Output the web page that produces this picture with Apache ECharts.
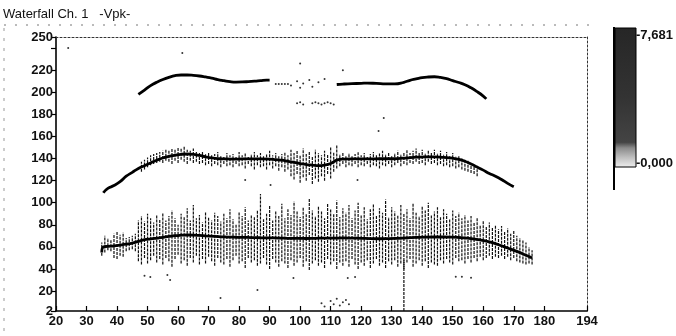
<!DOCTYPE html>
<html>
<head>
<meta charset="utf-8">
<script src="https://cdn.jsdelivr.net/npm/echarts@6/dist/echarts.min.js"></script>
<style>html,body{margin:0;padding:0;background:#fff}#c{width:676px;height:336px}</style>
</head>
<body>
<div id="c"></div>
<script>
// ---- axis ticks / labels ----
const xTickLabels = [20,30,40,50,60,70,80,90,100,110,120,130,140,150,160,170,180,194];
const yTickLabels = [2,20,40,60,80,100,120,140,160,180,200,220,250];
const yTicks = [2,20,40,60,80,100,120,140,160,180,200,220,240,250];
const colorbarLabels = ['-7,681','-0,000'];

// ---- top ridge (~210) ----
const topLeftX = [47,49,51,53,55,57,59,61,63,65,67,69,71,73,75,77,79,81,83,85,87,89,90];
const topLeftY = [198,202,206,209,211.5,213.5,215,215.6,215.6,215.3,214.7,213.8,212.8,211.5,210.5,209.6,209.2,209.3,209.6,210,210.5,211,211];
const topRightX = [112,114,117,120,122,125,128,131,134,136,138,140,142,144,146,148,150,152,154,156,158,160,161];
const topRightY = [207,207.4,207.8,208,208.3,208,207.6,207.5,209,210.8,212,213.2,213.8,214,213.4,212.3,210.5,208.8,206.8,204,200.5,196.5,194];

// ---- middle ridge (~140) ----
const midX = [35.5,37,39,41,43,45,47,49,51,53,55,57,59,61,63,65,67,69,71,73,75,78,81,84,87,90,92,94,96,98,100,102,104,106,108,110,112,114,117,120,123,126,129,132,135,138,141,144,147,150,152,154,156,158,160,162,164,166,168,170];
const midY = [109,113,115.5,119,124,127.5,131,133.5,136,138.5,140.5,142,143,143.8,144.1,143.8,142.8,141.5,140.5,140,139.6,139.5,139.6,139.6,139.6,139.5,139,138.5,137.5,136.5,135.5,134.5,134,133.5,134,135.5,138.5,139.5,139.7,139.6,139.6,139.8,139.8,140,140.6,141.2,141.5,141.5,141,140.3,139.3,137.5,135,132.3,129.5,126.5,124,121,117.5,114.5];

// ---- bottom ridge (~68) ----
const botX = [35,35.5,37,39,41,43,45,47,49,51,53,55,57,59,61,63,65,67,69,72,75,78,81,84,87,90,93,96,99,102,105,108,111,114,117,120,123,126,129,132,135,138,141,144,147,150,153,156,159,162,165,168,171,174,176];
const botY = [55,60,60.5,61,61.7,62.5,63.5,65,66.5,67.3,68,68.7,69.5,70.2,70.6,70.8,70.7,70.4,70,69.5,69,68.8,68.6,68.5,68.3,68.2,68,67.8,67.7,67.6,67.8,68,68,68.1,68,67.8,67.5,67.4,67.5,67.8,68.2,68.6,68.9,69,69,68.8,68.3,67.5,66.3,64.5,62,59,56,52.5,50];

// ---- bottom band streaks (x = 35..176 step 1) ----
const botNoiseStart = 35;
const botNoiseHigh = [
 64,70,68,66,72,74,71,73,68,69,
 70,72,84,88,83,90,86,82,89,85,
 91,84,88,93,86,80,90,87,95,84,
 98,86,89,82,92,87,84,91,88,83,
 90,86,94,85,81,92,88,96,84,89,
 87,93,108,85,90,97,84,92,88,99,
 86,94,89,101,92,87,96,90,104,93,
 88,97,92,86,99,94,90,102,87,95,
 91,98,86,93,100,89,96,85,94,99,
 88,95,91,103,87,96,92,89,98,90,
 94,86,99,91,88,97,93,100,89,92,
 96,87,94,90,85,93,88,91,86,89,
 84,88,82,86,80,84,79,82,78,80,
 76,79,74,77,72,75,70,68,66,64,
 60,57];
const botNoiseLow = [
 52,55,57,56,50,49,52,51,56,57,
 58,56,47,44,50,45,48,52,46,49,
 44,50,47,42,49,53,45,48,43,50,
 46,52,44,49,45,51,47,43,50,46,
 44,49,42,48,52,45,47,41,50,46,
 48,43,45,50,44,40,49,46,42,47,
 45,41,48,43,46,50,42,47,39,45,
 48,43,46,41,49,44,47,40,46,43,
 47,42,49,44,40,46,43,48,41,45,
 49,43,46,41,47,44,48,42,45,40,
 46,49,42,45,48,43,47,41,46,44,
 43,48,45,49,46,44,50,47,48,45,
 49,46,50,47,51,48,50,52,49,51,
 50,52,49,51,48,50,47,46,45,44,
 45,44];

// ---- middle band streaks (x = 48..158 step 1) ----
const midNoiseStart = 48;
const midNoiseHigh = [
 137,139,141,143,144,145,146,147,148,147,
 149,148,150,149,151,148,147,149,146,145,
 146,144,145,143,144,146,143,142,145,143,
 144,142,146,143,145,142,144,146,143,145,
 142,144,147,143,145,142,144,146,143,148,
 145,147,143,149,144,146,142,148,145,143,
 147,144,150,146,152,144,146,143,145,142,
 144,146,143,145,142,144,146,143,145,147,
 144,146,143,145,147,144,146,148,145,147,
 149,146,148,145,147,146,148,145,147,144,
 146,143,145,142,143,141,139,138,136,134,131];
const midNoiseLow = [
 128,130,132,134,135,136,137,136,138,137,
 135,138,136,139,137,135,138,136,137,135,
 136,134,135,133,135,134,132,135,133,134,
 132,135,133,134,131,135,133,130,134,132,
 133,130,134,131,133,129,132,128,130,124,
 121,126,118,123,120,125,117,122,119,124,
 120,126,122,128,131,133,135,132,134,133,
 135,132,134,133,135,132,134,133,131,134,
 133,135,132,134,136,133,135,134,136,135,
 137,135,136,134,137,135,136,134,135,133,
 134,132,133,131,132,130,129,128,127,126,124];

// ---- isolated streak ----
const spikeX = [134];
const spikeLow = [2];
const spikeHigh = [48];

// ---- scattered outlier dots ----
const dotX = [24,61.4,100,114,92,93,94,95,96,97,99,100,101,103,104,106,108,
  99,100,101,104,105,106,107,108,109,110,111,
  127.4,125.7,82,90.3,118.8,
  49,50.9,56.5,57.4,73.9,86,97.8,115.6,118,151,153,156,
  107,108,110,111,112,113,114,115,116];
const dotY = [240,235.5,226,220,207.4,207.4,207.4,207.4,207.4,206,210,204,208,211,205,209,212,
  190,191,189,190,191,190,189,190,191,190,189,
  176.7,165,120.6,116,120.6,
  34,32.8,34.6,30,13.8,21,31.9,31.9,32.8,33,33,32,
  9,6,11,8,13,7,10,12,8];

const zip = (xs, ys) => xs.map((x, i) => [x, ys[i]]);
const streaks = (start, lows, highs) => lows.map((l, i) => [start + i, l, highs[i]]);

const noiseData = streaks(botNoiseStart, botNoiseLow, botNoiseHigh)
  .concat(streaks(midNoiseStart, midNoiseLow, midNoiseHigh))
  .concat(spikeX.map((x, i) => [x, spikeLow[i], spikeHigh[i]]));

const FONT = '"Liberation Sans", Arial, sans-serif';
const chart = echarts.init(document.getElementById('c'), null, {renderer: 'canvas'});

const ridgeLine = (data) => ({
  type: 'line', data: data, smooth: true, showSymbol: false, symbol: 'none',
  lineStyle: {color: '#000', width: 2.8}, z: 5, animation: false, silent: true
});

const labelStyle = {fontFamily: FONT, fontSize: 13, fontWeight: 'bold', color: '#111'};

chart.setOption({
  animation: false,
  backgroundColor: '#fff',
  title: {
    text: 'Waterfall Ch. 1   -Vpk-',
    left: 3, top: 8, padding: 0,
    textStyle: {fontFamily: FONT, fontSize: 13, fontWeight: 'normal', color: '#111'}
  },
  grid: {left: 56, right: 89, top: 37, bottom: 25, containLabel: false},
  xAxis: [{
    type: 'value', min: 20, max: 194,
    axisLine: {show: true, onZero: false, lineStyle: {color: '#000', width: 1.6}},
    axisTick: {show: true, inside: true, length: 5, customValues: xTickLabels, lineStyle: {color: '#000', width: 1.2}},
    axisLabel: Object.assign({customValues: xTickLabels, margin: 4}, labelStyle),
    splitLine: {show: false}
  }, {
    type: 'value', min: 20, max: 194, position: 'top',
    axisLine: {show: true, onZero: false, lineStyle: {color: '#333', width: 1, type: [2, 2]}},
    axisTick: {show: false}, axisLabel: {show: false}, splitLine: {show: false}
  }],
  yAxis: [{
    type: 'value', min: 2, max: 250,
    axisLine: {show: true, onZero: false, lineStyle: {color: '#000', width: 1.6}},
    axisTick: {show: true, inside: false, length: 5, customValues: yTicks, lineStyle: {color: '#000', width: 1.2}},
    axisLabel: Object.assign({customValues: yTickLabels, margin: 3}, labelStyle),
    splitLine: {show: false}
  }, {
    type: 'value', min: 2, max: 250, position: 'right',
    axisLine: {show: true, onZero: false, lineStyle: {color: '#333', width: 1, type: [2, 2]}},
    axisTick: {show: false}, axisLabel: {show: false}, splitLine: {show: false}
  }],
  series: [
    {
      type: 'custom', data: noiseData, encode: {x: 0, y: [1, 2]}, z: 2, silent: true,
      renderItem: function (params, api) {
        const x = api.value(0);
        const p1 = api.coord([x, api.value(1)]);
        const p2 = api.coord([x, api.value(2)]);
        return {type: 'line', shape: {x1: p1[0], y1: p1[1], x2: p2[0], y2: p2[1]},
                style: {stroke: '#111', lineWidth: 1.2, lineDash: [3, 1]}};
      }
    },
    ridgeLine(zip(topLeftX, topLeftY)),
    ridgeLine(zip(topRightX, topRightY)),
    ridgeLine(zip(midX, midY)),
    ridgeLine(zip(botX, botY)),
    {
      type: 'scatter', data: zip(dotX, dotY), symbolSize: 2, z: 4, silent: true,
      itemStyle: {color: '#000'}
    }
  ],
  graphic: [
    {type: 'line', shape: {x1: 4, y1: 25, x2: 592, y2: 25}, style: {stroke: '#777', lineWidth: 1, lineDash: [2, 9]}},
    {type: 'line', shape: {x1: 4, y1: 28, x2: 4, y2: 334}, style: {stroke: '#999', lineWidth: 1, lineDash: [3, 7]}},
    {type: 'rect', shape: {x: 615, y: 28, width: 21, height: 139},
      style: {
        fill: new echarts.graphic.LinearGradient(0, 0, 0, 1, [
          {offset: 0, color: '#262626'},
          {offset: 0.5, color: '#333333'},
          {offset: 0.82, color: '#444444'},
          {offset: 0.86, color: '#8a8a8a'},
          {offset: 0.93, color: '#c0c0c0'},
          {offset: 1, color: '#efefef'}
        ]),
        stroke: '#000', lineWidth: 1
      }},
    {type: 'line', shape: {x1: 614, y1: 27, x2: 614, y2: 190}, style: {stroke: '#000', lineWidth: 2}},
    {type: 'text', left: 636, top: 29,
      style: {text: colorbarLabels[0], fontFamily: FONT, fontSize: 13, fontWeight: 'bold', fill: '#111'}},
    {type: 'text', left: 636, top: 157,
      style: {text: colorbarLabels[1], fontFamily: FONT, fontSize: 13, fontWeight: 'bold', fill: '#111'}}
  ]
});
</script>
</body>
</html>
